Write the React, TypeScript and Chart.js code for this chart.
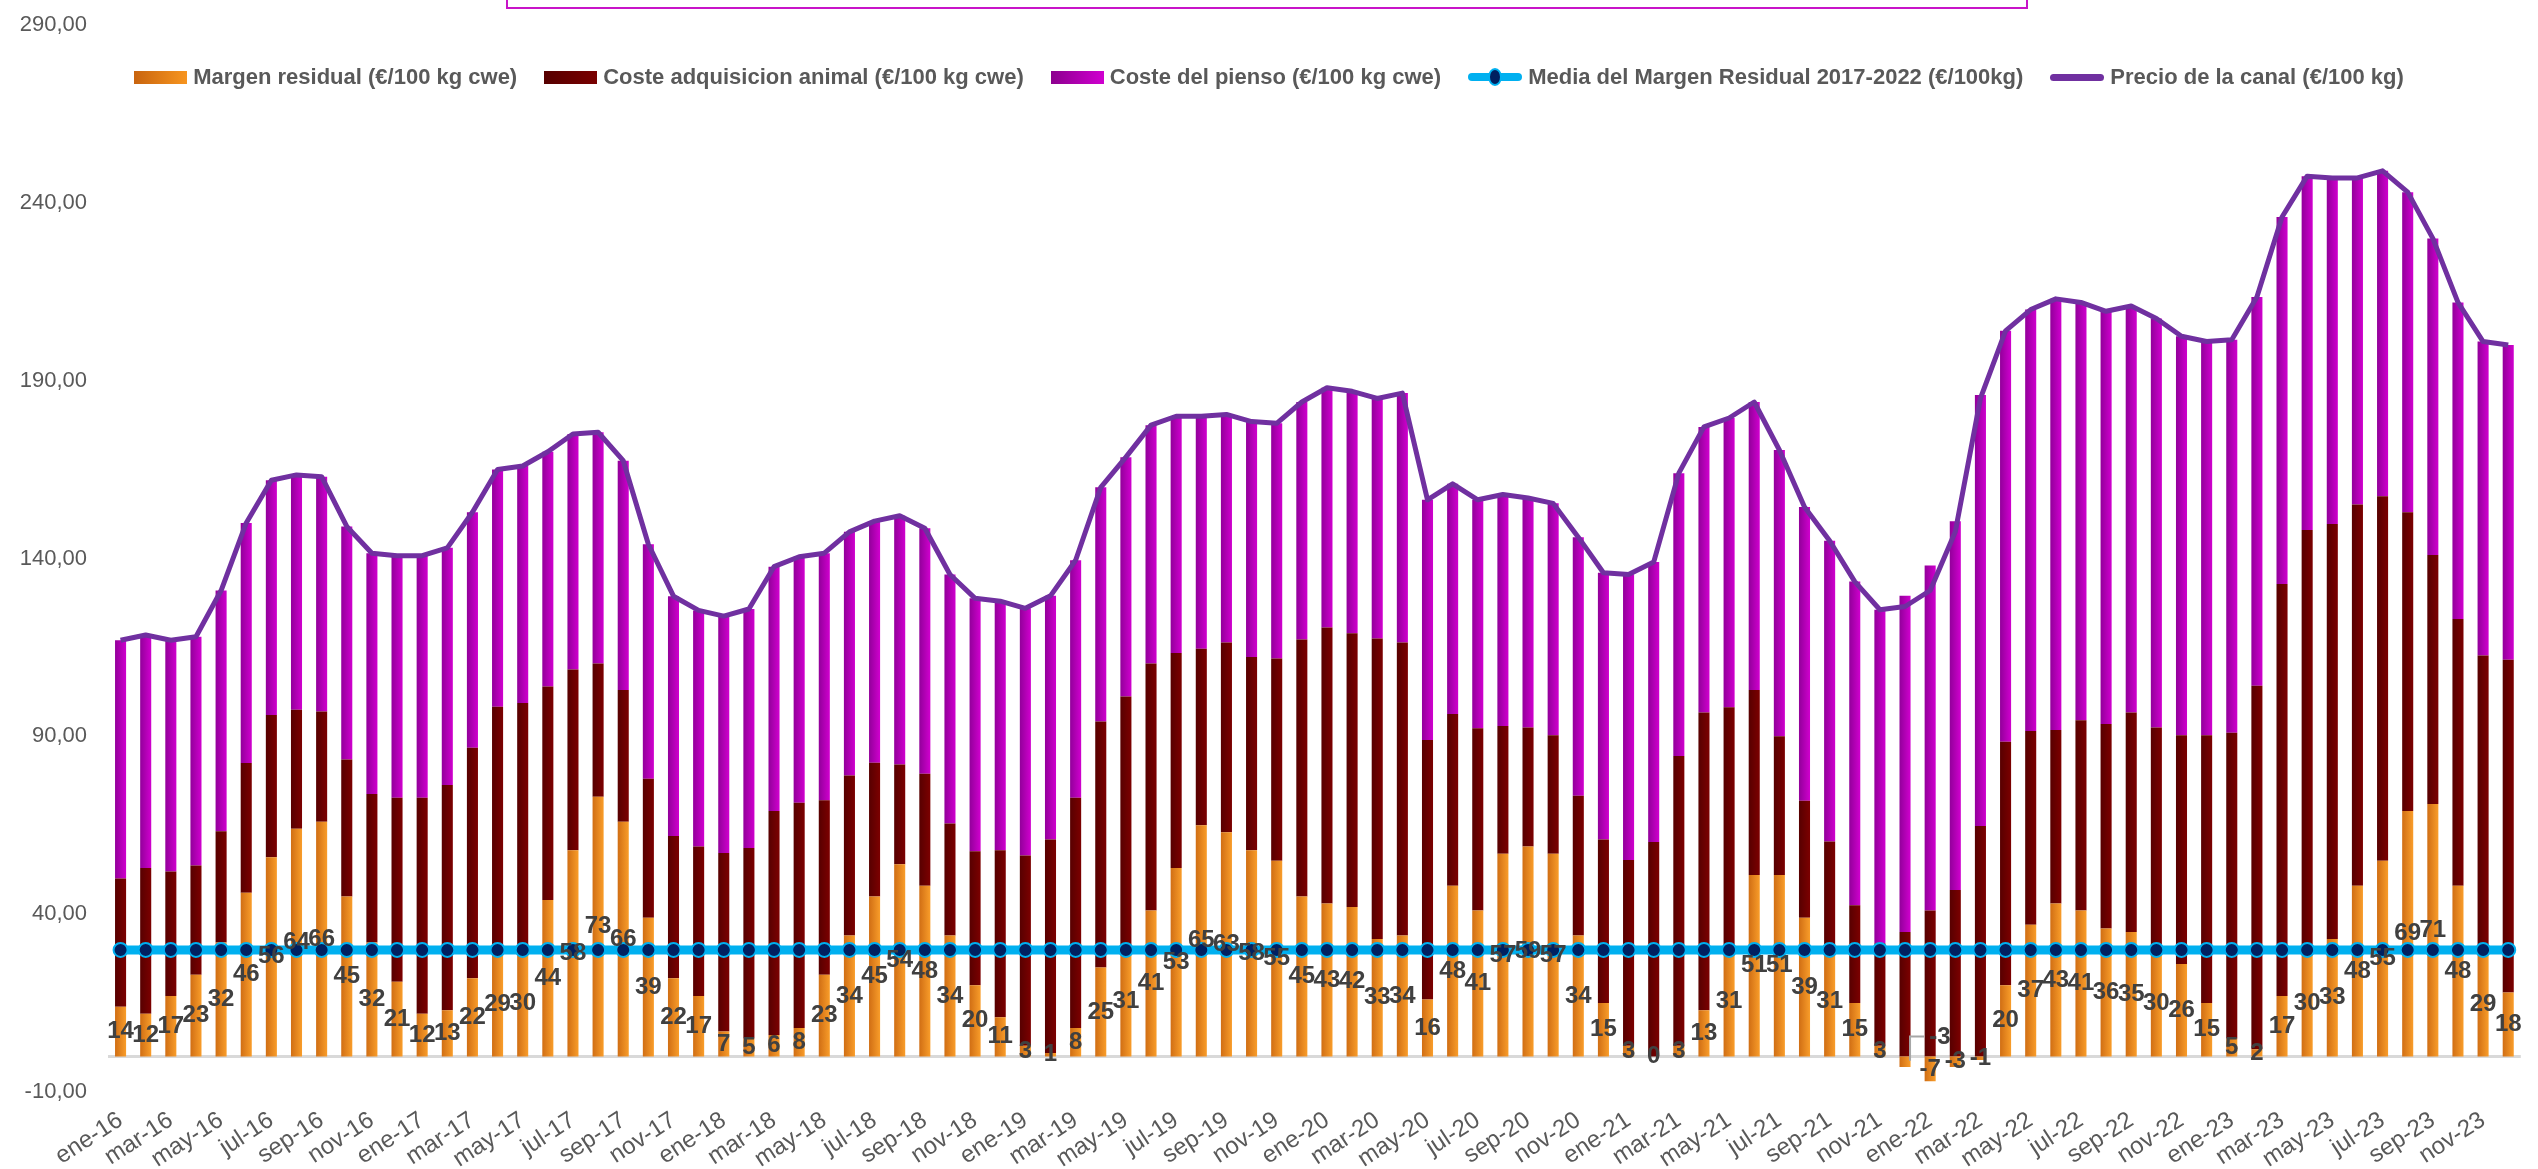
import React, { useEffect, useRef } from "react";
import { Chart, registerables } from "chart.js";

Chart.register(...registerables);

const FONT = '"Liberation Sans", Arial, sans-serif';

const meses = ["ene", "feb", "mar", "abr", "may", "jun", "jul", "ago", "sep", "oct", "nov", "dic"];
const anios = ["16", "17", "18", "19", "20", "21", "22", "23"];
const categories = anios.flatMap((a) => meses.map((m) => `${m}-${a}`));

const margenResidual = [
  14, 12, 17, 23, 32, 46, 56, 64, 66, 45, 32, 21,
  12, 13, 22, 29, 30, 44, 58, 73, 66, 39, 22, 17,
  7, 5, 6, 8, 23, 34, 45, 54, 48, 34, 20, 11,
  3, 1, 8, 25, 31, 41, 53, 65, 63, 58, 55, 45,
  43, 42, 33, 34, 16, 48, 41, 57, 59, 57, 34, 15,
  3, 0, 3, 13, 31, 51, 51, 39, 31, 15, 3, -3,
  -7, -3, -1, 20, 37, 43, 41, 36, 35, 30, 26, 15,
  5, 2, 17, 30, 33, 48, 55, 69, 71, 48, 29, 18,
];

const costeAnimal = [
  36, 41, 35, 30.7, 31.3, 36.5, 40, 33.5, 31, 38.5, 41.8, 51.7,
  60.7, 63.3, 64.8, 69.3, 69.4, 60, 50.8, 37.5, 37, 39.1, 40, 42,
  50.2, 53.6, 63, 63.3, 49, 45, 37.6, 28.1, 31.5, 31.5, 37.7, 47,
  53.5, 60, 64.7, 69.2, 70.2, 69.5, 60.4, 49.6, 53.4, 54.3, 56.9, 72.2,
  77.6, 77, 84.5, 82.4, 73, 48.3, 51.3, 35.9, 33.5, 33.3, 39.3, 46,
  52.2, 60.3, 81.5, 83.7, 67.2, 52, 39, 32.9, 29.4, 27.5, 28.8, 35,
  41, 46.8, 64.8, 68.5, 54.5, 48.8, 53.5, 57.5, 61.7, 62.5, 64.3, 75.3,
  86, 102.2, 115.8, 118, 116.7, 107.2, 102.5, 84, 70, 75, 83.7, 93.5,
];

const costePienso = [
  67, 65.5, 65, 64.3, 67.7, 67.5, 66, 66, 66, 65.5, 67.7, 68.1,
  68.1, 66.7, 66.2, 66.7, 66.6, 66, 66.2, 65, 64.5, 65.9, 67.4, 66.4,
  66.6, 67.2, 68.7, 69.2, 69.5, 68.5, 67.9, 69.9, 69, 70, 71.1, 70,
  69.5, 68.5, 66.8, 65.8, 67.3, 67, 66.6, 65.4, 64.1, 66.2, 66.1, 66.8,
  67.4, 68, 67.5, 70.1, 67.5, 64.7, 64.2, 65.1, 64.5, 65.2, 72.7, 75,
  80.3, 78.7, 79.5, 80.3, 81.3, 81, 80.5, 82.6, 84.6, 91, 93.8, 94.5,
  97, 103.7, 121.2, 115.5, 118.5, 121.2, 117.5, 116, 114.3, 115, 112.2, 110.7,
  110.5, 109.3, 103.2, 99.5, 97.3, 91.8, 91.5, 90, 89, 89, 88.3, 88.5,
];

const precioCanal = [
  117, 118.5, 117, 118, 131, 150, 162, 163.5, 163, 149, 141.5, 140.8,
  140.8, 143, 153, 165, 166, 170, 175, 175.5, 167.5, 144, 129.4, 125.4,
  123.8, 125.8, 137.7, 140.5, 141.5, 147.5, 150.5, 152, 148.5, 135.5, 128.8, 128,
  126, 129.5, 139.5, 160, 168.5, 177.5, 180, 180, 180.5, 178.5, 178, 184,
  188, 187, 185, 186.5, 156.5, 161, 156.5, 158, 157, 155.5, 146, 136,
  135.5, 139, 164, 177, 179.5, 184, 170.5, 154.5, 145, 133.5, 125.6, 126.5,
  131, 147.5, 185, 204, 210, 213, 212, 209.5, 211, 207.5, 202.5, 201,
  201.5, 213.5, 236, 247.5, 247, 247, 249, 243, 230, 212, 201, 200,
];

const mediaMargen20172022 = 29.94;
const mediaSeries = categories.map(() => mediaMargen20172022);

const yTicks = [-10, 40, 90, 140, 190, 240, 290];

const seriesNames = [
  "Margen residual (€/100 kg cwe)",
  "Coste adquisicion animal (€/100 kg cwe)",
  "Coste del pienso (€/100 kg cwe)",
  "Media del Margen Residual 2017-2022 (€/100kg)",
  "Precio de la canal (€/100 kg)",
];

const BAR_PCT = 0.44;
const LEADER_INDEX = 71; // dic-21 label placed with a leader line

const barGradient = (c1: string, c2: string) => (ctx: any) => {
  const chart = ctx.chart;
  const xs = chart.scales?.x;
  if (!chart.chartArea || !xs || ctx.type !== "data") return c2;
  const x = xs.getPixelForValue(ctx.dataIndex);
  const w = (xs.width / categories.length) * BAR_PCT;
  const g = chart.ctx.createLinearGradient(x - w / 2, 0, x + w / 2, 0);
  g.addColorStop(0, c1);
  g.addColorStop(1, c2);
  return g;
};

const zeroLinePlugin = {
  id: "zeroLine",
  beforeDatasetsDraw(chart: any) {
    const { ctx, chartArea } = chart;
    const y = chart.scales.y.getPixelForValue(0);
    ctx.save();
    ctx.strokeStyle = "#D9D9D9";
    ctx.lineWidth = 3;
    ctx.beginPath();
    ctx.moveTo(chartArea.left, y);
    ctx.lineTo(chartArea.right, y);
    ctx.stroke();
    ctx.restore();
  },
};

const labelPlugin = {
  id: "margenLabels",
  afterDatasetsDraw(chart: any) {
    const meta = chart.getDatasetMeta(0);
    const ys = chart.scales.y;
    const ctx = chart.ctx;
    ctx.save();
    ctx.font = `bold 24px ${FONT}`;
    ctx.fillStyle = "#404040";
    ctx.textAlign = "center";
    ctx.textBaseline = "middle";
    meta.data.forEach((el: any, i: number) => {
      const v = margenResidual[i];
      const p = el.getProps(["x", "y", "base"], true);
      let x = p.x;
      let y = (p.y + p.base) / 2;
      if (i === LEADER_INDEX) {
        const yTop = ys.getPixelForValue(5.6);
        ctx.strokeStyle = "#A6A6A6";
        ctx.lineWidth = 2;
        ctx.beginPath();
        ctx.moveTo(x + 5, ys.getPixelForValue(-1.2));
        ctx.lineTo(x + 5, yTop);
        ctx.lineTo(x + 19, yTop);
        ctx.stroke();
        x = x + 35;
        y = ys.getPixelForValue(5.4);
      }
      ctx.fillText(String(v), x, y);
    });
    ctx.restore();
  },
};

const legendItems = [
  { name: seriesNames[0], kind: "bar", c1: "#C8640F", c2: "#F7951F" },
  { name: seriesNames[1], kind: "bar", c1: "#560000", c2: "#7A0000" },
  { name: seriesNames[2], kind: "bar", c1: "#8C008E", c2: "#D000D0" },
  { name: seriesNames[3], kind: "marker", c1: "#00B0F0", c2: "#002060" },
  { name: seriesNames[4], kind: "line", c1: "#7030A0", c2: "#7030A0" },
];

function LegendIcon({ item }: { item: any }) {
  if (item.kind === "bar") {
    return (
      <span
        style={{
          display: "inline-block",
          width: 53,
          height: 13,
          background: `linear-gradient(to right, ${item.c1}, ${item.c2})`,
          marginRight: 6,
        }}
      />
    );
  }
  if (item.kind === "marker") {
    return (
      <span style={{ position: "relative", display: "inline-block", width: 54, height: 18, marginRight: 6 }}>
        <span
          style={{
            position: "absolute",
            left: 0,
            top: 5,
            width: 54,
            height: 8,
            borderRadius: 4,
            background: item.c1,
          }}
        />
        <span
          style={{
            position: "absolute",
            left: 20,
            top: 0,
            width: 10,
            height: 14,
            borderRadius: "50%",
            background: item.c2,
            border: `2px solid ${item.c1}`,
          }}
        />
      </span>
    );
  }
  return (
    <span
      style={{
        display: "inline-block",
        width: 54,
        height: 7,
        borderRadius: 4,
        background: item.c1,
        marginRight: 6,
      }}
    />
  );
}

export default function App() {
  const canvasRef = useRef<HTMLCanvasElement | null>(null);

  useEffect(() => {
    document.body.style.margin = "0";
    const canvas = canvasRef.current;
    if (!canvas) return;
    Chart.defaults.font.family = FONT;

    const chart = new Chart(canvas, {
      data: {
        labels: categories,
        datasets: [
          {
            type: "bar",
            label: seriesNames[0],
            data: margenResidual,
            backgroundColor: barGradient("#D06E14", "#F99D2A"),
            stack: "costes",
            order: 0,
            categoryPercentage: 1,
            barPercentage: BAR_PCT,
          },
          {
            type: "bar",
            label: seriesNames[1],
            data: costeAnimal,
            backgroundColor: barGradient("#570000", "#7C0000"),
            stack: "costes",
            order: 0,
            categoryPercentage: 1,
            barPercentage: BAR_PCT,
          },
          {
            type: "bar",
            label: seriesNames[2],
            data: costePienso,
            backgroundColor: barGradient("#92009A", "#D000CE"),
            stack: "costes",
            order: 0,
            categoryPercentage: 1,
            barPercentage: BAR_PCT,
          },
          {
            type: "line",
            label: seriesNames[3],
            data: mediaSeries,
            borderColor: "#00B0F0",
            borderWidth: 9,
            pointRadius: 7,
            pointBackgroundColor: "#002060",
            pointBorderColor: "#00B0F0",
            pointBorderWidth: 2,
            stack: "media",
            order: -2,
            tension: 0,
          },
          {
            type: "line",
            label: seriesNames[4],
            data: precioCanal,
            borderColor: "#7030A0",
            borderWidth: 5,
            pointRadius: 0,
            stack: "precio",
            order: -1,
            tension: 0,
            borderJoinStyle: "round",
          },
        ] as any,
      },
      options: {
        animation: false,
        responsive: false,
        maintainAspectRatio: false,
        layout: { padding: { top: 25, right: 16, left: 0, bottom: 0 } },
        plugins: {
          legend: { display: false },
          tooltip: { enabled: false },
          title: { display: false },
        },
        scales: {
          x: {
            stacked: true,
            offset: true,
            grid: { display: false, drawTicks: false },
            border: { display: false },
            ticks: {
              autoSkip: false,
              minRotation: 33,
              maxRotation: 33,
              padding: 14,
              color: "#595959",
              font: { size: 24, family: FONT },
              callback: (_v: any, i: number) => (i % 2 === 0 ? categories[i] : ""),
            },
            afterFit: (scale: any) => {
              scale.height = 77;
            },
          },
          y: {
            stacked: true,
            min: -10,
            max: 290,
            grid: { display: false, drawTicks: false },
            border: { display: false },
            afterBuildTicks: (scale: any) => {
              scale.ticks = yTicks.map((v) => ({ value: v }));
            },
            ticks: {
              padding: 21,
              color: "#595959",
              font: { size: 22, family: FONT },
              callback: (v: any) => Number(v).toFixed(2).replace(".", ","),
            },
            afterFit: (scale: any) => {
              scale.width = 108;
              scale.paddingTop = 0;
              scale.paddingBottom = 0;
            },
          },
        },
      },
      plugins: [zeroLinePlugin, labelPlugin],
    } as any);

    return () => chart.destroy();
  }, []);

  return (
    <div style={{ position: "relative", width: 2538, height: 1169, overflow: "hidden", background: "#fff" }}>
      <canvas ref={canvasRef} width={2538} height={1169} style={{ display: "block" }} />
      <div
        style={{
          position: "absolute",
          left: 506,
          top: -15,
          width: 1522,
          height: 24,
          border: "2px solid #C814C8",
          boxSizing: "border-box",
        }}
      />
      <div
        style={{
          position: "absolute",
          left: 0,
          top: 62,
          width: 2538,
          height: 30,
          display: "flex",
          justifyContent: "center",
          alignItems: "center",
          fontFamily: FONT,
          fontWeight: "bold",
          fontSize: 22,
          color: "#595959",
          whiteSpace: "nowrap",
        }}
      >
        {legendItems.map((item, i) => (
          <span
            key={i}
            style={{ display: "inline-flex", alignItems: "center", marginLeft: i === 0 ? 0 : 27 }}
          >
            <LegendIcon item={item} />
            <span>{item.name}</span>
          </span>
        ))}
      </div>
    </div>
  );
}
